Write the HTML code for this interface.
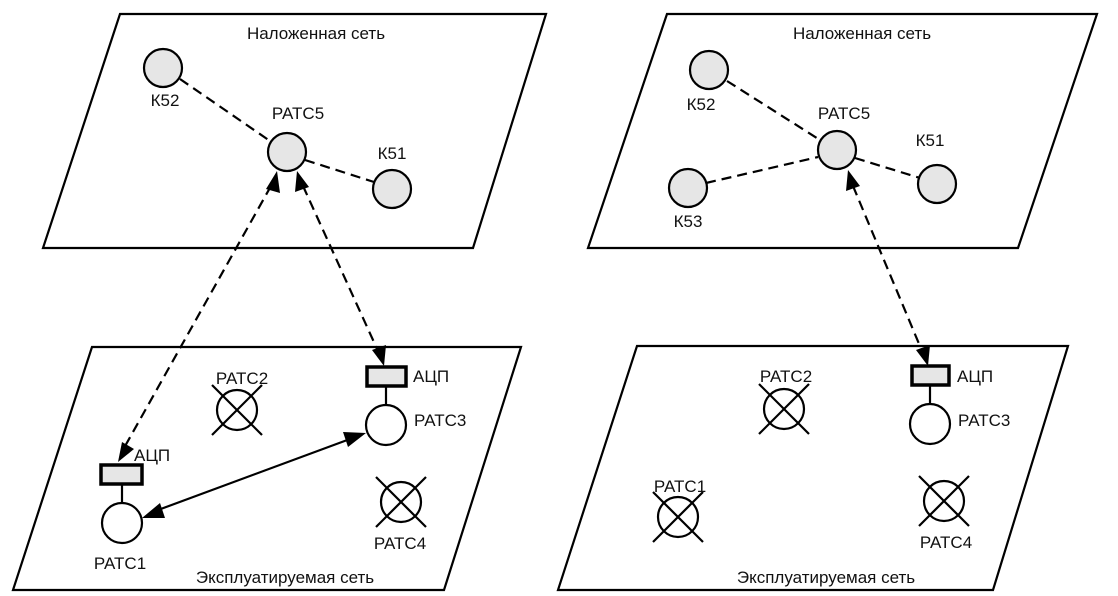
<!DOCTYPE html>
<html><head><meta charset="utf-8"><style>
html,body{margin:0;padding:0;background:#fff;}
svg{display:block;}
text{font-family:"Liberation Sans",Arial,sans-serif;font-size:17px;fill:#111;}
</style></head><body>
<svg width="1118" height="596" viewBox="0 0 1118 596" xmlns="http://www.w3.org/2000/svg">
<g fill="none" stroke="#000" stroke-width="2.2">
<polygon points="120,14 546,14 473,248 43,248"/>
<polygon points="667,14 1097,14 1018,248 588,248"/>
<polygon points="92,347 521,347 444,590 13,590"/>
<polygon points="637,346 1068,346 993,590 558,590"/>
</g>
<text x="316" y="39" text-anchor="middle">Наложенная сеть</text>
<text x="862" y="39" text-anchor="middle">Наложенная сеть</text>
<text x="285" y="583" text-anchor="middle">Эксплуатируемая сеть</text>
<text x="826" y="583" text-anchor="middle">Эксплуатируемая сеть</text>

<g stroke="#000" stroke-width="2.2" stroke-dasharray="10,6" fill="none">
<line x1="180" y1="79" x2="270" y2="141"/>
<line x1="305" y1="160" x2="374" y2="182"/>
<line x1="727" y1="81" x2="820" y2="140"/>
<line x1="855" y1="158" x2="920" y2="178"/>
<line x1="706" y1="183" x2="818" y2="157"/>
<line x1="271" y1="186" x2="124" y2="448"/>
<line x1="303" y1="186" x2="378" y2="351"/>
<line x1="853" y1="186" x2="922" y2="351"/>
</g>
<g fill="#000">
<polygon points="277,171 266,189 280,193"/>
<polygon points="118,462 122,442 134,449"/>
<polygon points="297,171 295,192 309,187"/>
<polygon points="384,366 372,350 386,345"/>
<polygon points="848,170 846,191 860,186"/>
<polygon points="928,366 916,350 930,345"/>
</g>
<g fill="#e6e6e6" stroke="#000" stroke-width="2.2">
<circle cx="163" cy="68" r="19"/>
<circle cx="287" cy="152" r="19"/>
<circle cx="392" cy="189" r="19"/>
<circle cx="709" cy="70" r="19"/>
<circle cx="837" cy="150" r="19"/>
<circle cx="937" cy="184" r="19"/>
<circle cx="688" cy="188" r="19"/>
</g>
<text x="165" y="106" text-anchor="middle">К52</text>
<text x="298" y="119" text-anchor="middle">РАТС5</text>
<text x="392" y="159" text-anchor="middle">К51</text>
<text x="701" y="110" text-anchor="middle">К52</text>
<text x="844" y="119" text-anchor="middle">РАТС5</text>
<text x="930" y="146" text-anchor="middle">К51</text>
<text x="688" y="227" text-anchor="middle">К53</text>

<g stroke="#000" stroke-width="2.2" fill="none">
<line x1="122" y1="484" x2="122" y2="503"/>
<line x1="386" y1="387" x2="386" y2="405"/>
<circle cx="122" cy="523" r="20" fill="#fff"/>
<circle cx="386" cy="425" r="20" fill="#fff"/>
<circle cx="237" cy="410" r="20"/>
<line x1="212" y1="385" x2="262" y2="435"/><line x1="262" y1="385" x2="212" y2="435"/>
<circle cx="401" cy="502" r="20"/>
<line x1="376" y1="477" x2="426" y2="527"/><line x1="426" y1="477" x2="376" y2="527"/>
<line x1="158" y1="510" x2="350" y2="439"/>
<line x1="930" y1="385" x2="930" y2="404"/>
<circle cx="930" cy="424" r="20" fill="#fff"/>
<circle cx="784" cy="409" r="20"/>
<line x1="759" y1="384" x2="809" y2="434"/><line x1="809" y1="384" x2="759" y2="434"/>
<circle cx="678" cy="517" r="20"/>
<line x1="653" y1="492" x2="703" y2="542"/><line x1="703" y1="492" x2="653" y2="542"/>
<circle cx="944" cy="501" r="20"/>
<line x1="919" y1="476" x2="969" y2="526"/><line x1="969" y1="476" x2="919" y2="526"/>
</g>
<g fill="#000">
<polygon points="142,518 160,503 165,518"/>
<polygon points="366,433 348,447 343,432"/>
</g>
<g fill="#e6e6e6" stroke="#000" stroke-width="3.5">
<rect x="101" y="465" width="41" height="19"/>
<rect x="367" y="367" width="39" height="19"/>
<rect x="912" y="366" width="37" height="19"/>
</g>
<text x="134" y="461">АЦП</text>
<text x="413" y="382">АЦП</text>
<text x="957" y="382">АЦП</text>
<text x="120" y="569" text-anchor="middle">РАТС1</text>
<text x="414" y="426">РАТС3</text>
<text x="242" y="384" text-anchor="middle">РАТС2</text>
<text x="400" y="549" text-anchor="middle">РАТС4</text>
<text x="958" y="426">РАТС3</text>
<text x="786" y="382" text-anchor="middle">РАТС2</text>
<text x="680" y="492" text-anchor="middle">РАТС1</text>
<text x="946" y="548" text-anchor="middle">РАТС4</text>
</svg>
</body></html>
